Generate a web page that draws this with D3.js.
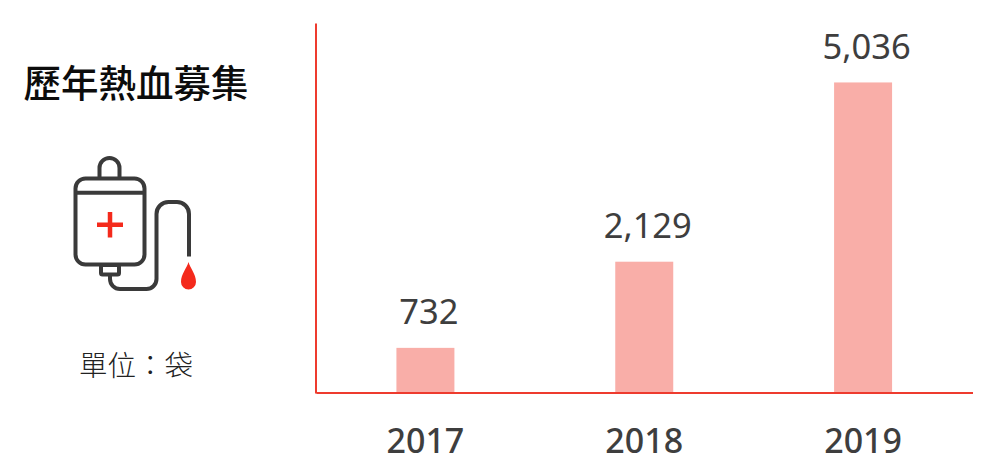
<!DOCTYPE html>
<html><head><meta charset="utf-8">
<script src="https://d3js.org/d3.v7.min.js"></script>
<style>html,body{margin:0;padding:0;background:#fff}svg{display:block}</style>
</head><body><svg id="c" width="995" height="474"></svg>
<script>
const years = ["2017","2018","2019"];
const bags = [732,2129,5036];
const title = "歷年熱血募集";
const unit = "單位\uFF1A袋";

const svg = d3.select("#c");
const font = "'Noto Sans','Open Sans',sans-serif";
const cjk = "'Noto Sans CJK TC','Noto Sans',sans-serif";
const x = d3.scaleBand().domain(years).range([316,972.5]).paddingInner(0.735).paddingOuter(0.3675);
const y = d3.scaleLinear().domain([0,6000]).range([393,23]);

svg.selectAll("rect.bar").data(bags).join("rect").attr("class","bar")
  .attr("x",(d,i)=>x(years[i])).attr("width",x.bandwidth())
  .attr("y",d=>y(d)).attr("height",d=>y(0)-y(d)).attr("fill","#f9aea8");

svg.selectAll("text.val").data(bags).join("text").attr("class","val")
  .attr("x",(d,i)=>x(years[i])+x.bandwidth()/2+3.5).attr("y",d=>y(d)-23.5)
  .attr("text-anchor","middle").attr("font-family",font).attr("font-size",34.5)
  .attr("fill","#3e3e3e").text(d3.format(","));

const xAxis = svg.append("g").attr("transform","translate(0,392.5)")
  .call(d3.axisBottom(x).tickSize(0).tickPadding(36));
xAxis.selectAll("text").attr("font-family",font).attr("font-size",34).attr("font-weight",500).attr("fill","#3e3e3e");
xAxis.select(".domain").attr("stroke","#ee3b2e").attr("stroke-width",2);
const yAxis = svg.append("g").attr("transform","translate(315.5,0)")
  .call(d3.axisLeft(y).tickValues([]).tickSize(0));
yAxis.select(".domain").attr("stroke","#ee3b2e").attr("stroke-width",2);

svg.append("text").attr("x",136).attr("y",97).attr("text-anchor","middle")
  .attr("font-family",cjk).attr("font-size",37.5).attr("font-weight",500).attr("fill","#0c0c0c").text(title);
svg.append("text").attr("x",136).attr("y",376).attr("text-anchor","middle")
  .attr("font-family",cjk).attr("font-size",28.5).attr("font-weight",300).attr("fill","#222").text(unit);

const ic = svg.append("g").attr("fill","none").attr("stroke","#3a3a3a").attr("stroke-width",4);
ic.append("rect").attr("x",75.5).attr("y",178.5).attr("width",69).attr("height",86).attr("rx",10);
ic.append("path").attr("d","M75.5 192.7H144.5");
ic.append("path").attr("d","M99.5 178V168A10 10 0 0 1 119.5 168V178");
ic.append("rect").attr("x",101).attr("y",265).attr("width",18).attr("height",9.5).attr("rx",1.5);
ic.append("path").attr("d","M110 275V279A10 10 0 0 0 120 289H146A10 10 0 0 0 156.5 279V214A12 12 0 0 1 168.5 202H177A12 12 0 0 1 189 214V256.5");
svg.append("path").attr("fill","none").attr("stroke","#f42a1c").attr("stroke-width",4.5)
  .attr("d","M97 224.7H123M110 212V237.5");
svg.append("path").attr("fill","#f42a1c")
  .attr("d","M188.5 262C190 268 196 274 196 282A7.5 7.5 0 0 1 181 282C181 274 187 268 188.5 262Z");
</script></body></html>
